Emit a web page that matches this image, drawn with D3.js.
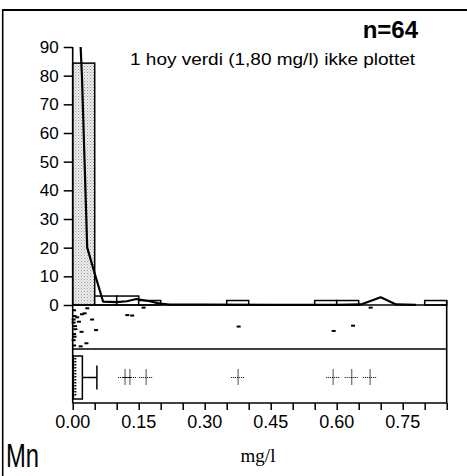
<!DOCTYPE html>
<html><head><meta charset="utf-8">
<script src="https://cdn.jsdelivr.net/npm/d3@7"></script>
<style>
body{margin:0;background:#fff;}
svg{display:block;}
</style></head>
<body>
<svg id="chart" width="467" height="476"></svg>
<script>
// ---- data ----
const binStarts = [0, 0.05, 0.10, 0.15, 0.35, 0.55, 0.60, 0.80];
const binPercents = [84.375, 3.125, 3.125, 1.5625, 1.5625, 1.5625, 1.5625, 1.5625];
const binWidth = 0.05;

const curveX = [0.018, 0.021, 0.033, 0.050, 0.069, 0.10, 0.123, 0.145, 0.175, 0.198, 0.22, 0.30, 0.45, 0.60, 0.655, 0.70, 0.735, 0.78];
const curveY = [90, 80, 20, 11, 1.2, 1.0, 1.3, 2.1, 1.3, 0.5, 0.15, 0.1, 0.05, 0.05, 0.2, 2.7, 0.2, 0.05];

const stripValues = [0.032, 0.026, 0.020, 0.009, 0.043, 0.013, 0.123, 0.134, 0.160, 0.052, 0.019, 0.030, 0.017, 0.376, 0.592, 0.636, 0.676,
                     0.002, 0.003, 0.001, 0.004, 0.002, 0.003, 0.001, 0.002, 0.005, 0.001];
const stripJitter = [0.075, 0.19, 0.21, 0.28, 0.33, 0.38, 0.23, 0.24, 0.06, 0.57, 0.61, 0.87, 0.94, 0.49, 0.59, 0.47, 0.06,
                     0.12, 0.25, 0.40, 0.48, 0.66, 0.72, 0.80, 0.92, 0.55, 0.33];

const boxQ1 = 0.0015, boxMedian = 0.006, boxQ3 = 0.022, whiskerLow = 0.0, whiskerHigh = 0.055;
const outliers = [0.119, 0.130, 0.167, 0.376, 0.592, 0.634, 0.676];

const yTicks = [0, 10, 20, 30, 40, 50, 60, 70, 80, 90];
const xMinorTicks = d3.range(0, 0.851, 0.05);
const xLabelTicks = [0, 0.15, 0.30, 0.45, 0.60, 0.75];

const countLabel = "n=64";
const noteLabel = "1 hoy verdi (1,80 mg/l) ikke plottet";
const unitLabel = "mg/l";
const elementLabel = "Mn";

// ---- layout ----
const svg = d3.select("#chart");
const defs = svg.append("defs");
const pat = defs.append("pattern").attr("id", "stipple").attr("patternUnits", "userSpaceOnUse").attr("width", 3).attr("height", 3);
pat.append("rect").attr("width", 3).attr("height", 3).attr("fill", "#ececec");
pat.append("rect").attr("x", 0).attr("y", 0).attr("width", 1).attr("height", 1).attr("fill", "#9a9a9a");
pat.append("rect").attr("x", 1.5).attr("y", 1.5).attr("width", 1).attr("height", 1).attr("fill", "#b5b5b5");

const x = d3.scaleLinear().domain([0, 0.85]).range([72.7, 446.7]);
const y = d3.scaleLinear().domain([0, 90]).range([305, 47]);
const stripTop = 305, stripBottom = 349, axisY = 403;
const boxTop = 356, boxBottom = 399, boxMid = 377.5;

// outer frame
svg.append("line").attr("x1", 2).attr("x2", 467).attr("y1", 10).attr("y2", 10).attr("stroke", "#000").attr("stroke-width", 2);
svg.append("line").attr("x1", 2.7).attr("x2", 2.7).attr("y1", 10).attr("y2", 476).attr("stroke", "#000").attr("stroke-width", 1.6);

// histogram bars
svg.append("g").selectAll("rect").data(binStarts).join("rect")
  .attr("x", d => x(d))
  .attr("width", d => x(d + binWidth) - x(d))
  .attr("y", (d, i) => y(binPercents[i]))
  .attr("height", (d, i) => y(0) - y(binPercents[i]))
  .attr("fill", (d, i) => i === 0 ? "url(#stipple)" : "#fff")
  .attr("stroke", "#000").attr("stroke-width", 1.5);

// y axis
const yAxis = d3.axisLeft(y).tickValues(yTicks).tickSize(9).tickPadding(5).tickFormat(d3.format("d"));
const gy = svg.append("g").attr("transform", `translate(${x(0)},0)`).call(yAxis);
gy.select(".domain").remove();
gy.selectAll(".tick line").attr("stroke-width", 1.5);
gy.selectAll("text").attr("font-family", "Liberation Sans, Arial, sans-serif").attr("font-size", 17).attr("fill", "#000");

// left vertical line of the plot
svg.append("line").attr("x1", x(0)).attr("x2", x(0)).attr("y1", y(90)).attr("y2", axisY).attr("stroke", "#000").attr("stroke-width", 1.6);
// baseline and separator lines
svg.append("line").attr("x1", x(0)).attr("x2", x(0.85)).attr("y1", stripTop).attr("y2", stripTop).attr("stroke", "#000").attr("stroke-width", 1.6);
svg.append("line").attr("x1", x(0)).attr("x2", x(0.85)).attr("y1", stripBottom).attr("y2", stripBottom).attr("stroke", "#000").attr("stroke-width", 1.6);
// right vertical line
svg.append("line").attr("x1", x(0.85)).attr("x2", x(0.85)).attr("y1", y(binPercents[binPercents.length - 1])).attr("y2", axisY).attr("stroke", "#000").attr("stroke-width", 1.6);

// density curve
const line = d3.line().x((d, i) => x(curveX[i])).y(d => y(d)).curve(d3.curveLinear);
svg.append("path").datum(curveY).attr("d", line).attr("fill", "none").attr("stroke", "#000").attr("stroke-width", 2.2).attr("stroke-linejoin", "round");

// strip plot
svg.append("g").selectAll("rect").data(stripValues).join("rect")
  .attr("x", d => x(d) - 1.5)
  .attr("y", (d, i) => stripTop + stripJitter[i] * (stripBottom - stripTop) - 1)
  .attr("width", 4).attr("height", 2).attr("fill", "#000");

// box plot
svg.append("rect").attr("x", x(boxQ1)).attr("width", x(boxQ3) - x(boxQ1))
  .attr("y", boxTop).attr("height", boxBottom - boxTop)
  .attr("fill", "#fff").attr("stroke", "#000").attr("stroke-width", 1.5);
svg.append("line").attr("x1", x(boxMedian)).attr("x2", x(boxMedian)).attr("y1", boxTop + 2).attr("y2", boxBottom - 2)
  .attr("stroke", "#000").attr("stroke-width", 2).attr("stroke-dasharray", "1.5,1.5");
svg.append("line").attr("x1", x(boxQ3)).attr("x2", x(whiskerHigh)).attr("y1", boxMid).attr("y2", boxMid).attr("stroke", "#000").attr("stroke-width", 1.5);
svg.append("line").attr("x1", x(whiskerHigh)).attr("x2", x(whiskerHigh)).attr("y1", boxMid - 12).attr("y2", boxMid + 12).attr("stroke", "#000").attr("stroke-width", 1.5);

// outlier crosses (dotted)
const og = svg.append("g").selectAll("g").data(outliers).join("g").attr("transform", d => `translate(${x(d)},${boxMid})`);
og.append("line").attr("x1", -7).attr("x2", 7).attr("y1", 0).attr("y2", 0).attr("stroke", "#000").attr("stroke-width", 1.2).attr("stroke-dasharray", "1,1");
og.append("line").attr("x1", 0).attr("x2", 0).attr("y1", -8).attr("y2", 8).attr("stroke", "#000").attr("stroke-width", 1.4).attr("stroke-dasharray", "1,1");

// x axis
svg.append("line").attr("x1", x(0)).attr("x2", x(0.85)).attr("y1", axisY).attr("y2", axisY).attr("stroke", "#000").attr("stroke-width", 1.5);
const xAxis = d3.axisBottom(x).tickValues(xMinorTicks).tickSize(7).tickFormat("");
const gx = svg.append("g").attr("transform", `translate(0,${axisY})`).call(xAxis);
gx.select(".domain").remove();
gx.selectAll(".tick line").attr("stroke-width", 1.5);
svg.append("g").selectAll("text").data(xLabelTicks).join("text")
  .attr("x", d => x(d)).attr("y", 428)
  .attr("text-anchor", "middle")
  .attr("font-family", "Liberation Sans, Arial, sans-serif").attr("font-size", 18)
  .text(d => d3.format(".2f")(d));

// texts
svg.append("text").attr("x", 418).attr("y", 38).attr("text-anchor", "end")
  .attr("font-family", "Liberation Sans, Arial, sans-serif").attr("font-weight", "bold").attr("font-size", 24).text(countLabel);
svg.append("text").attr("x", 130).attr("y", 65)
  .attr("font-family", "Liberation Sans, Arial, sans-serif").attr("font-size", 16)
  .attr("textLength", 285).attr("lengthAdjust", "spacingAndGlyphs").text(noteLabel);
svg.append("text").attr("x", 258).attr("y", 462).attr("text-anchor", "middle")
  .attr("font-family", "Liberation Serif, Times New Roman, serif").attr("font-size", 19).text(unitLabel);
svg.append("text").attr("transform", "translate(6,467) scale(0.7,1)")
  .attr("font-family", "Liberation Sans, Arial, sans-serif").attr("font-size", 34).text(elementLabel);
</script>
</body></html>
